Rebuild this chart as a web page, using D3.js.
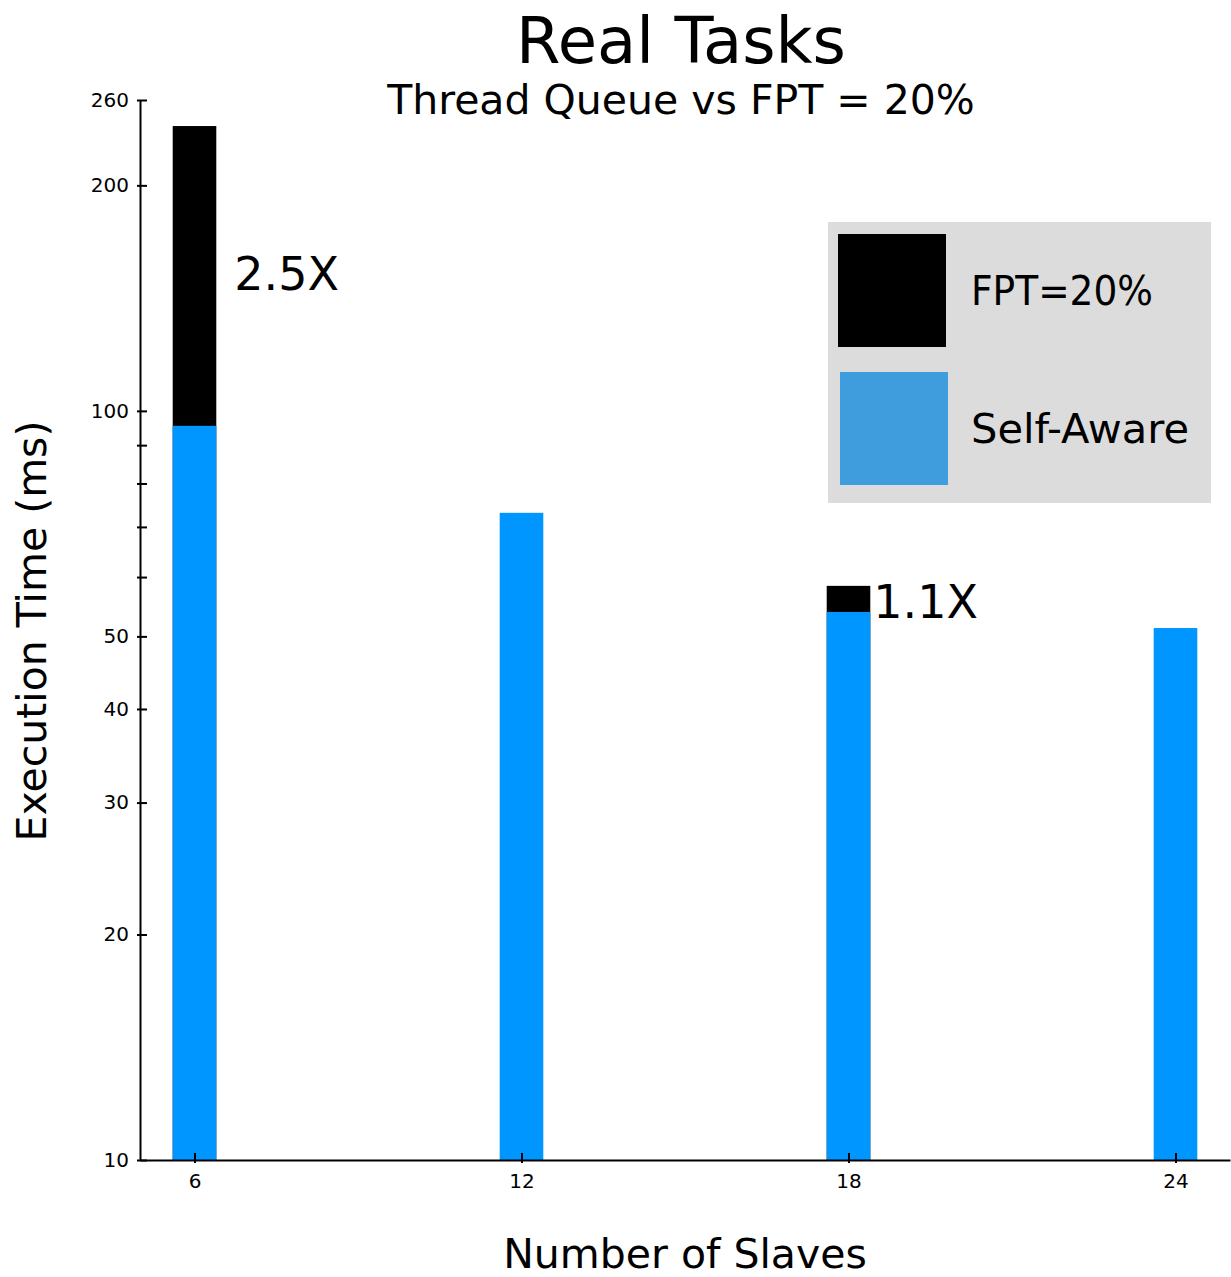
<!DOCTYPE html>
<html><head><meta charset="utf-8">
<script src="https://cdn.jsdelivr.net/npm/d3@7"></script>
<style>body{margin:0;background:#fff}svg{display:block}text{font-family:"DejaVu Sans",sans-serif}</style>
</head><body>
<script>
const slaves = [6, 12, 18, 24];
const selfAware = [95.5, 73.1, 53.9, 51.3];
const fpt20 = [240, null, 58.4, null];
const speedups = ["2.5X", null, "1.1X", null];
const yTickLabels = [10, 20, 30, 40, 50, 100, 200, 260];
const yMinorTicks = [60, 70, 80, 90];
const seriesNames = ["FPT=20%", "Self-Aware"];

const W = 1231, H = 1277;
const svg = d3.select("body").append("svg").attr("width", W).attr("height", H);
const x = d3.scaleLinear().domain([5, 25]).range([140, 1230]);
const y = d3.scaleLog().domain([10, 260]).range([1160, 100]);
const bw = x(6.4) - x(5.6);

// bars: black (FPT) behind, blue in front
slaves.forEach((s, i) => {
  if (fpt20[i] != null) {
    svg.append("rect").attr("x", x(s) - bw/2).attr("y", y(fpt20[i]))
      .attr("width", bw).attr("height", y(10) - y(fpt20[i])).attr("fill", "#000");
  }
  svg.append("rect").attr("x", x(s) - bw/2).attr("y", y(selfAware[i]))
    .attr("width", bw).attr("height", y(10) - y(selfAware[i])).attr("fill", "#0096ff");
});

// annotations
slaves.forEach((s, i) => {
  if (speedups[i]) {
    const top = fpt20[i];
    svg.append("text").attr("x", x(s) + bw/2 + (i === 0 ? 18 : 3))
      .attr("y", i === 0 ? y(top) + 164 : y(top) + 32)
      .attr("font-size", 46).text(speedups[i]);
  }
});

// y axis
const yAxis = d3.axisLeft(y).tickValues(yTickLabels).tickFormat(d3.format("d")).tickSizeInner(-7).tickSizeOuter(0).tickPadding(10);
const gy = svg.append("g").attr("transform", "translate(140,0)").call(yAxis);
gy.attr("font-size", 20).attr("font-family", "DejaVu Sans");
gy.selectAll(".tick line").attr("x1", -3).attr("x2", 7);
gy.selectAll("text").attr("font-size", 20).attr("x", -11);
gy.selectAll("path,line").attr("stroke", "#000").attr("stroke-width", 2);
const gyMinor = svg.append("g").attr("transform", "translate(140,0)")
  .call(d3.axisLeft(y).tickValues(yMinorTicks).tickFormat("").tickSizeOuter(0));
gyMinor.select(".domain").remove();
gyMinor.selectAll(".tick line").attr("x1", -3).attr("x2", 7).attr("stroke", "#000").attr("stroke-width", 2);

// x axis
const xAxis = d3.axisBottom(x).tickValues(slaves).tickSizeOuter(0).tickPadding(12);
const gx = svg.append("g").attr("transform", "translate(0,1160)").call(xAxis);
gx.attr("font-size", 20).attr("font-family", "DejaVu Sans");
gx.selectAll(".tick line").attr("y1", -7).attr("y2", 3);
gx.selectAll("text").attr("font-size", 20).attr("y", 14);
gx.selectAll("path,line").attr("stroke", "#000").attr("stroke-width", 2);

// titles
svg.append("text").attr("x", 681).attr("y", 63).attr("text-anchor", "middle").attr("font-size", 64).text("Real Tasks");
svg.append("text").attr("x", 681).attr("y", 114).attr("text-anchor", "middle").attr("font-size", 41).text("Thread Queue vs FPT = 20%");
svg.append("text").attr("x", 685).attr("y", 1268).attr("text-anchor", "middle").attr("font-size", 41).text("Number of Slaves");
svg.append("text").attr("transform", "translate(46,631) rotate(-90)").attr("text-anchor", "middle").attr("font-size", 41).text("Execution Time (ms)");

// legend
const lg = svg.append("g");
lg.append("rect").attr("x", 828).attr("y", 222).attr("width", 383).attr("height", 281).attr("fill", "#dcdcdc");
const legColors = ["#000", "#3f9cdd"];
const legY = [234, 372];
const legX = [838, 840];
const legW = [182, 218];
seriesNames.forEach((n, i) => {
  lg.append("rect").attr("x", legX[i]).attr("y", legY[i]).attr("width", 108).attr("height", 113).attr("fill", legColors[i]);
  lg.append("text").attr("x", 971).attr("y", legY[i] + 71).attr("font-size", 40)
    .attr("textLength", legW[i]).attr("lengthAdjust", "spacingAndGlyphs").text(n);
});
</script>
</body></html>
